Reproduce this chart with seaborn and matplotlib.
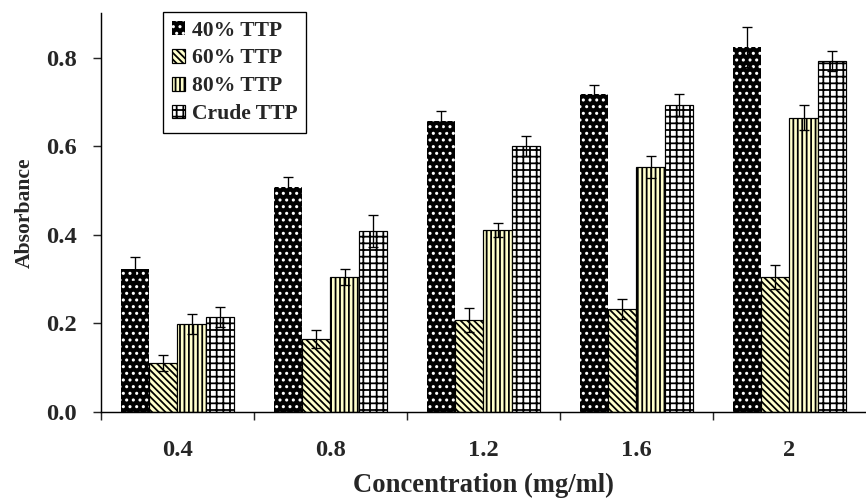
import matplotlib
matplotlib.use("Agg")
import matplotlib.pyplot as plt
import seaborn as sns
import pandas as pd

# values
concentrations = ["0.4", "0.8", "1.2", "1.6", "2"]
series = ["40% TTP", "60% TTP", "80% TTP", "Crude TTP"]
ttp40 = [0.323, 0.508, 0.658, 0.719, 0.825]
ttp60 = [0.111, 0.165, 0.208, 0.233, 0.305]
ttp80 = [0.199, 0.305, 0.411, 0.554, 0.665]
crude = [0.215, 0.409, 0.601, 0.694, 0.793]
err40 = [0.027, 0.023, 0.022, 0.020, 0.045]
err60 = [0.018, 0.020, 0.027, 0.022, 0.028]
err80 = [0.022, 0.018, 0.016, 0.025, 0.028]
errcr = [0.022, 0.036, 0.023, 0.025, 0.022]

rows = []
for name, vals, errs in zip(series, [ttp40, ttp60, ttp80, crude], [err40, err60, err80, errcr]):
    for c, v, e in zip(concentrations, vals, errs):
        rows.append({"Concentration": c, "Series": name, "Absorbance": v, "err": e})
df = pd.DataFrame(rows)

sns.set_style("ticks")
plt.rcParams["font.family"] = ["Liberation Serif", "DejaVu Serif"]
plt.rcParams["font.weight"] = "bold"
plt.rcParams["hatch.linewidth"] = 1.6

# dpi 80 so the hatch spacing comes out close to the reference
fig = plt.figure(figsize=(866 / 80, 502 / 80), dpi=80)
ax = fig.add_axes([0.1166, 0.1793, 0.8834, 0.7948])

sns.barplot(data=df, x="Concentration", y="Absorbance", hue="Series",
            order=concentrations, hue_order=series, errorbar=None,
            width=0.74, gap=0, legend=False, ax=ax)
bars = list(ax.containers)

# fill styles per series: face, hatch colour, hatch
styles = [("black", "white", ".."), ("#FFFFCC", "black", "\\\\\\\\"),
          ("#FFFFCC", "black", "|||"), ("white", "black", "++")]
for cont, (fc, ec, h) in zip(bars, styles):
    for p in cont.patches:
        p.set_facecolor(fc)
        p.set_edgecolor(ec)
        p.set_hatch(h)
        p.set_linewidth(0 if fc == "black" else 1.1)

# error bars
for cont, name in zip(bars, series):
    sub = df[df["Series"] == name]
    xs = [p.get_x() + p.get_width() / 2 for p in cont.patches]
    ys = [p.get_height() for p in cont.patches]
    ax.errorbar(xs, ys, yerr=sub["err"].values, fmt="none", ecolor="black",
                elinewidth=1.2, capsize=4.5, capthick=1.2)

ax.set_xlim(-0.5, 4.5)
ax.set_ylim(0, 0.9017)
ax.set_yticks([0.0, 0.2, 0.4, 0.6, 0.8])
ax.set_yticklabels(["0.0", "0.2", "0.4", "0.6", "0.8"])
ax.set_xticks([-0.5, 0.5, 1.5, 2.5, 3.5], minor=True)
ax.tick_params(axis="x", which="major", length=0, pad=25, labelsize=22)
ax.tick_params(axis="x", which="minor", length=7, width=1.3, direction="out")
ax.tick_params(axis="y", length=7, width=1.3, labelsize=22, pad=15)
for lab in ax.get_xticklabels() + ax.get_yticklabels():
    lab.set_fontweight("bold")

sns.despine(ax=ax)
for s in ["left", "bottom"]:
    ax.spines[s].set_linewidth(1.3)
    ax.spines[s].set_color("black")

ax.set_xlabel("Concentration (mg/ml)", fontsize=24, fontweight="bold", labelpad=11)
ax.set_ylabel("Absorbance", fontsize=19.5, fontweight="bold", labelpad=10)

handles = [c.patches[0] for c in bars]
leg = ax.legend(handles, series, loc="upper left", bbox_to_anchor=(0.081, 1.0025),
                borderaxespad=0, frameon=True, fancybox=False, edgecolor="black",
                handlelength=0.6, handleheight=0.6, handletextpad=0.35,
                labelspacing=0.36, borderpad=0.4,
                prop={"size": 19.5, "weight": "bold"})
leg.get_frame().set_linewidth(1.2)
leg.get_frame().set_alpha(1)

fig.savefig("out.png", dpi=80)
